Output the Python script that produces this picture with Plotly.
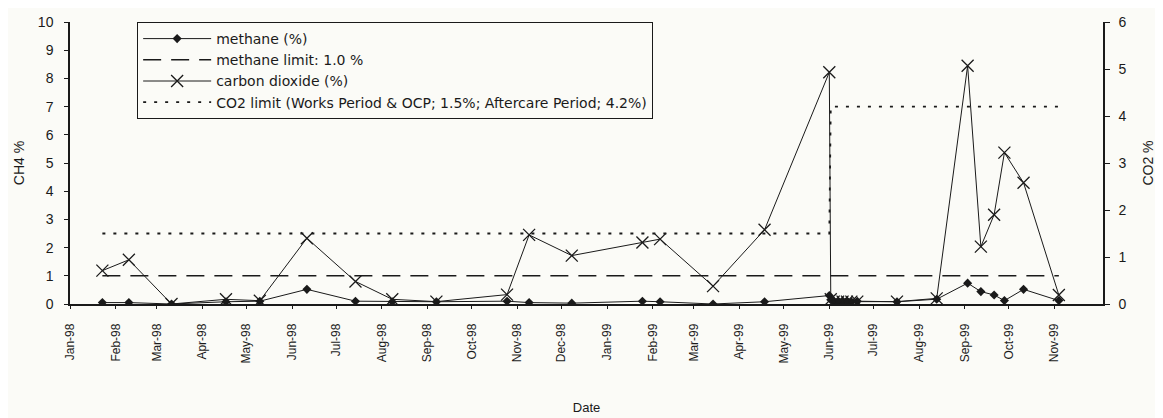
import plotly.graph_objects as go

# ---- data ----
sample_dates = [
    "1998-01-23", "1998-02-10", "1998-03-11", "1998-04-17", "1998-05-10", "1998-06-11",
    "1998-07-14", "1998-08-08", "1998-09-07", "1998-10-25", "1998-11-09", "1998-12-08",
    "1999-01-25", "1999-02-06", "1999-03-14", "1999-04-18",
    "1999-06-01", "1999-06-02", "1999-06-04", "1999-06-07", "1999-06-10", "1999-06-13",
    "1999-06-16", "1999-06-20",
    "1999-07-17", "1999-08-13", "1999-09-03", "1999-09-12", "1999-09-21", "1999-09-28",
    "1999-10-11", "1999-11-04",
]
methane = [
    0.05, 0.05, 0.0, 0.08, 0.1, 0.52, 0.1, 0.08, 0.08, 0.1, 0.05, 0.03,
    0.1, 0.08, 0.0, 0.08,
    0.3, 0.15, 0.1, 0.08, 0.1, 0.1, 0.08, 0.1,
    0.08, 0.17, 0.74, 0.44, 0.32, 0.12, 0.52, 0.12,
]
carbon_dioxide = [
    0.71, 0.94, 0.0, 0.1, 0.07, 1.40, 0.48, 0.10, 0.05, 0.2, 1.47, 1.03,
    1.31, 1.38, 0.38, 1.58,
    4.93, 0.1, 0.05, 0.05, 0.05, 0.05, 0.05, 0.05,
    0.05, 0.12, 5.07, 1.22, 1.90, 3.22, 2.58, 0.19,
]
methane_limit = [1.0] * len(sample_dates)
co2_limit = [1.5] * 17 + [4.2] * 15

tick_dates = [
    "1998-01-01", "1998-02-01", "1998-03-01", "1998-04-01", "1998-05-01", "1998-06-01",
    "1998-07-01", "1998-08-01", "1998-09-01", "1998-10-01", "1998-11-01", "1998-12-01",
    "1999-01-01", "1999-02-01", "1999-03-01", "1999-04-01", "1999-05-01", "1999-06-01",
    "1999-07-01", "1999-08-01", "1999-09-01", "1999-10-01", "1999-11-01",
]
tick_labels = [
    "Jan-98", "Feb-98", "Mar-98", "Apr-98", "May-98", "Jun-98", "Jul-98", "Aug-98",
    "Sep-98", "Oct-98", "Nov-98", "Dec-98", "Jan-99", "Feb-99", "Mar-99", "Apr-99",
    "May-99", "Jun-99", "Jul-99", "Aug-99", "Sep-99", "Oct-99", "Nov-99",
]
ch4_ticks = list(range(0, 11))
co2_ticks = list(range(0, 7))

FONT = "Liberation Sans, Arial, sans-serif"
LEGEND_FONT = "DejaVu Sans, Liberation Sans, sans-serif"
INK = "#1a1a1a"
BG = "#fbfbf7"

fig = go.Figure()
fig.add_trace(go.Scatter(
    x=sample_dates, y=methane, name="methane (%)", mode="lines+markers",
    line=dict(color=INK, width=1),
    marker=dict(symbol="diamond", size=7, color=INK),
))
fig.add_trace(go.Scatter(
    x=sample_dates, y=methane_limit, name="methane limit: 1.0 %", mode="lines",
    line=dict(color=INK, width=1.5, dash="18px,10px"),
))
fig.add_trace(go.Scatter(
    x=sample_dates, y=carbon_dioxide, name="carbon dioxide (%)", mode="lines+markers",
    yaxis="y2",
    line=dict(color=INK, width=1),
    marker=dict(symbol="x-thin-open", size=12, color=INK, line=dict(color=INK, width=1.3)),
))
fig.add_trace(go.Scatter(
    x=sample_dates, y=co2_limit, name="CO2 limit (Works Period & OCP; 1.5%; Aftercare Period; 4.2%)",
    mode="lines", yaxis="y2",
    line=dict(color=INK, width=1.8, dash="3px,8px"),
))

fig.update_layout(
    width=1163, height=418,
    margin=dict(l=62, r=68, t=14, b=122),
    paper_bgcolor=BG, plot_bgcolor=BG,
    font=dict(family=FONT, color=INK, size=13),
    showlegend=True,
    legend=dict(
        x=0.065, y=1.0, xanchor="left", yanchor="top",
        bgcolor=BG, bordercolor=INK, borderwidth=1,
        font=dict(family=LEGEND_FONT, size=14, color=INK),
        itemwidth=68, tracegroupgap=0,
    ),
    xaxis=dict(
        type="date", range=["1998-01-01", "1999-12-04"],
        tickvals=tick_dates, ticktext=tick_labels, tickangle=-90,
        tickfont=dict(size=12),
        showgrid=False, zeroline=False, automargin=False,
        showline=True, linecolor=INK, linewidth=1.5,
        ticks="outside", ticklen=3, tickcolor=INK,
        ticklabelstandoff=10,
        title=dict(text="Date", font=dict(size=13), standoff=40),
    ),
    yaxis=dict(
        range=[0, 10], tickvals=ch4_ticks,
        tickfont=dict(size=14),
        showgrid=False, zeroline=False, automargin=False,
        showline=True, linecolor=INK, linewidth=1.5,
        ticks="outside", ticklen=4, tickcolor=INK,
        ticklabelstandoff=8,
        title=dict(text="CH4 %", font=dict(size=14), standoff=10),
    ),
    yaxis2=dict(
        range=[0, 6], tickvals=co2_ticks, overlaying="y", side="right",
        tickfont=dict(size=14),
        showgrid=False, zeroline=False, automargin=False,
        showline=True, linecolor=INK, linewidth=1.5,
        ticks="outside", ticklen=5, tickcolor=INK,
        ticklabelstandoff=6,
        title=dict(text="CO2 %", font=dict(size=14), standoff=18),
    ),
)

fig.write_html("out.html")
